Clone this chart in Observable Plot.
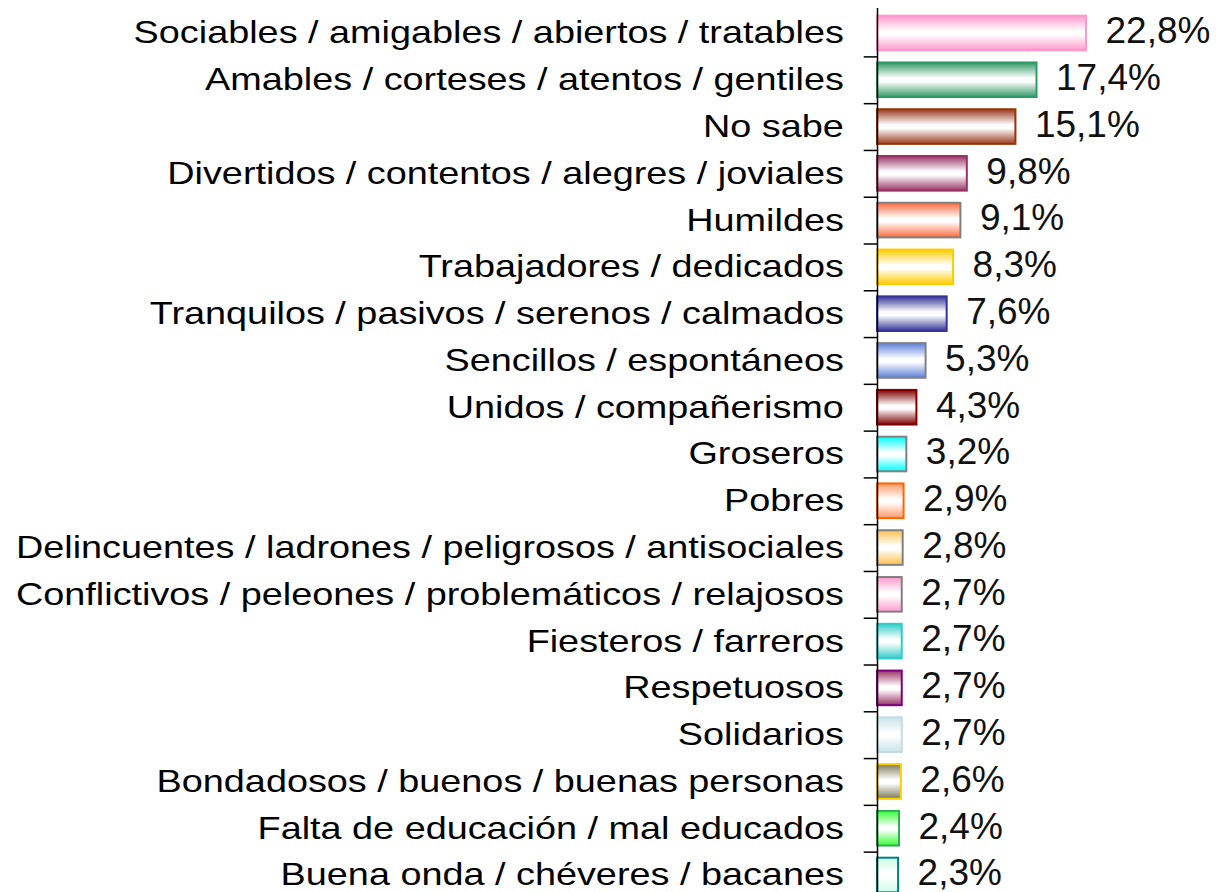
<!DOCTYPE html>
<html>
<head>
<meta charset="utf-8">
<script src="https://cdn.jsdelivr.net/npm/d3@7"></script>
<script src="https://cdn.jsdelivr.net/npm/@observablehq/plot@0.6"></script>
<style>
  html, body { margin: 0; padding: 0; background: #fff; }
  #chart { width: 1220px; height: 892px; overflow: hidden; }
</style>
</head>
<body>
<div id="chart"></div>
<script>
const categories = [
  "Sociables / amigables / abiertos / tratables",
  "Amables / corteses / atentos / gentiles",
  "No sabe",
  "Divertidos / contentos / alegres / joviales",
  "Humildes",
  "Trabajadores / dedicados",
  "Tranquilos / pasivos / serenos / calmados",
  "Sencillos / espontáneos",
  "Unidos / compañerismo",
  "Groseros",
  "Pobres",
  "Delincuentes / ladrones / peligrosos / antisociales",
  "Conflictivos / peleones / problemáticos / relajosos",
  "Fiesteros / farreros",
  "Respetuosos",
  "Solidarios",
  "Bondadosos / buenos / buenas personas",
  "Falta de educación / mal educados",
  "Buena onda / chéveres / bacanes"
];
const values = [22.8, 17.4, 15.1, 9.8, 9.1, 8.3, 7.6, 5.3, 4.3, 3.2, 2.9, 2.8, 2.7, 2.7, 2.7, 2.7, 2.6, 2.4, 2.3];
const fillColors = ["#ff99cc","#339966","#9a3a20","#993366","#ff6a3d","#ffcc00","#333399","#5b7fd9","#800000","#00ffff","#ff9966","#ffc04d","#ff99cc","#33cccc","#993366","#c8e4e8","#7a7a5a","#33ff33","#ccffe6"];
const strokeColors = ["#ff99cc","#339966","#993300","#993366","#808080","#ffcc00","#333399","#808080","#800000","#808080","#ff6600","#808080","#808080","#33cccc","#800080","#c0dde0","#ffcc00","#33aa55","#008080"];

const data = categories.map((c, i) => ({cat: c, value: values[i], i, fill: `url(#grad${i})`, stroke: strokeColors[i]}));
const fmt = v => v.toFixed(1).replace(".", ",") + "%";

const svg = Plot.plot({
  width: 1220,
  height: 892,
  marginTop: 8,
  marginBottom: 0,
  marginLeft: 0,
  marginRight: 0,
  style: {fontFamily: "'Liberation Sans', Arial, sans-serif", background: "white", color: "#000"},
  x: {domain: [0, 22.8], range: [877, 1086], axis: null},
  y: {domain: categories, range: [9.6, 898.4], paddingInner: 0.26, paddingOuter: 0.13, round: false, axis: null},
  marks: [
    Plot.barX(data, {x: "value", y: "cat", fill: "fill", stroke: "stroke", strokeWidth: 2}),
    Plot.ruleX([0], {stroke: "#000", strokeWidth: 1.5}),
    Plot.ruleY(categories, {y: d => d, x1: -1.45, x2: 0, dy: 23.4, stroke: "#000", strokeWidth: 1.5}),
    Plot.text(categories, {x: 0, y: d => d, text: d => d, textAnchor: "end", dx: -43, fontSize: 31, fill: "#000"}),
    Plot.text(data, {x: "value", y: "cat", text: d => fmt(d.value), textAnchor: "start", dx: 19, dy: -2, fontSize: 37, fill: "#111"})
  ]
});

// gradient definitions
const ns = "http://www.w3.org/2000/svg";
const defs = document.createElementNS(ns, "defs");
fillColors.forEach((c, i) => {
  const lg = document.createElementNS(ns, "linearGradient");
  lg.setAttribute("id", `grad${i}`);
  lg.setAttribute("x1", "0"); lg.setAttribute("y1", "0");
  lg.setAttribute("x2", "0"); lg.setAttribute("y2", "1");
  [[0, c], [0.45, "#ffffff"], [0.55, "#ffffff"], [1, c]].forEach(([o, col]) => {
    const s = document.createElementNS(ns, "stop");
    s.setAttribute("offset", o);
    s.setAttribute("stop-color", col);
    lg.appendChild(s);
  });
  defs.appendChild(lg);
});
svg.insertBefore(defs, svg.firstChild);

document.getElementById("chart").appendChild(svg);

// horizontally stretch category labels about their right edge (as in the reference)
const catSet = new Set(categories);
const svgRect = svg.getBoundingClientRect();
Array.from(svg.querySelectorAll("text"))
  .filter(t => catSet.has(t.textContent))
  .forEach(t => {
    const r = t.getBoundingClientRect();
    const R = r.right - svgRect.left;
    const g = document.createElementNS(ns, "g");
    g.setAttribute("transform", `translate(${R},0) scale(1.22,1) translate(${-R},0)`);
    t.parentNode.insertBefore(g, t);
    g.appendChild(t);
  });
</script>
</body>
</html>
